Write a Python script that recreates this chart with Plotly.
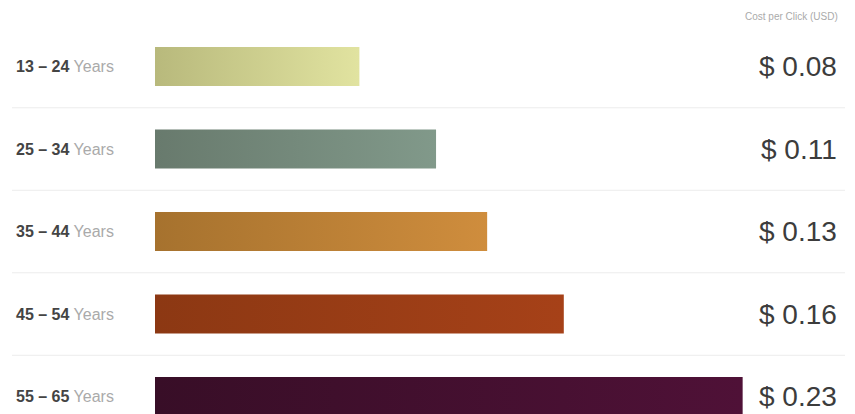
import plotly.graph_objects as go

# ---- data ----
age_from = ["13", "25", "35", "45", "55"]
age_to = ["24", "34", "44", "54", "65"]
cpc_usd = [0.08, 0.11, 0.13, 0.16, 0.23]
grad_left = ["#b8b97c", "#687a6d", "#a6722e", "#8c3813", "#380e27"]
grad_right = ["#e1e3a0", "#81998a", "#cf8d3d", "#a64118", "#4f1137"]
axis_note = "Cost per Click (USD)"

W, H = 855, 414
PAGE_OFF = 8.0  # browser body margin offset
px_per_unit = 2555.0
zero_px = 155.0 - PAGE_OFF
row_px = 82.5
first_row_px = 66.5 - PAGE_OFF
half_bar = 19.5 / row_px

xmin = -zero_px / px_per_unit
xmax = (W - zero_px) / px_per_unit
ymin = -first_row_px / row_px
ymax = (H - first_row_px) / row_px

def px_to_x(p):
    return (p - PAGE_OFF - zero_px) / px_per_unit

def py_to_y(p):
    return (p - PAGE_OFF - first_row_px) / row_px

fig = go.Figure()

for i, v in enumerate(cpc_usd):
    fig.add_trace(go.Scatter(
        x=[0, v, v, 0, 0],
        y=[i - half_bar, i - half_bar, i + half_bar, i + half_bar, i - half_bar],
        mode="lines",
        fill="toself",
        line=dict(width=0),
        fillgradient=dict(type="horizontal",
                          colorscale=[[0, grad_left[i]], [1, grad_right[i]]]),
        hoverinfo="skip",
        showlegend=False,
    ))

annotations = []
for i, v in enumerate(cpc_usd):
    annotations.append(dict(
        x=px_to_x(14), y=i, xref="x", yref="y",
        text=f"<b>{age_from[i]} \u2013 {age_to[i]}</b> <span style='color:#aaaaaa'>Years</span>",
        showarrow=False, xanchor="left", yanchor="middle",
        font=dict(family="Liberation Sans, Arial, sans-serif", size=16, color="#444444"),
    ))
    annotations.append(dict(
        x=px_to_x(839), y=i, xref="x", yref="y",
        text=f"$ {v:.2f}",
        showarrow=False, xanchor="right", yanchor="middle",
        font=dict(family="Liberation Sans, Arial, sans-serif", size=28, color="#3c3c3c"),
    ))

annotations.append(dict(
    x=px_to_x(840), y=py_to_y(16), xref="x", yref="y",
    text=axis_note, showarrow=False, xanchor="right", yanchor="middle",
    font=dict(family="Liberation Sans, Arial, sans-serif", size=10, color="#aaaaaa"),
))

shapes = []
for k in range(len(cpc_usd) - 1):
    shapes.append(dict(
        type="line", xref="x", yref="y",
        x0=px_to_x(12), x1=px_to_x(845), y0=k + 0.5, y1=k + 0.5,
        line=dict(color="#ececec", width=1),
        layer="below",
    ))

fig.update_layout(
    width=W, height=H,
    margin=dict(l=0, r=0, t=0, b=0),
    paper_bgcolor="white", plot_bgcolor="white",
    xaxis=dict(range=[xmin, xmax], visible=False, fixedrange=True),
    yaxis=dict(range=[ymax, ymin], visible=False, fixedrange=True),
    annotations=annotations,
    shapes=shapes,
    showlegend=False,
)

fig.write_html("out.html")
